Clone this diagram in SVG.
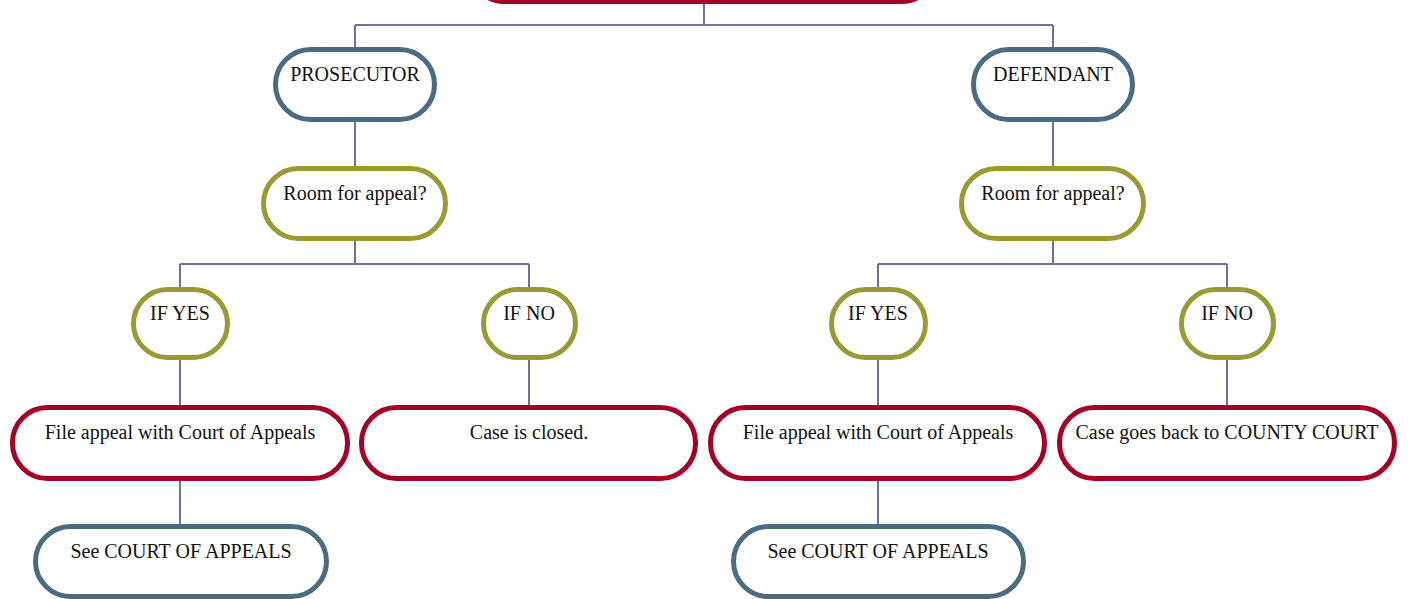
<svg xmlns="http://www.w3.org/2000/svg" width="1408" height="599" viewBox="0 0 1408 599">
<style>
.n rect{fill:#ffffff;stroke-width:5}
.red rect{stroke:#a50026}
.blue rect{stroke:#4b6b80}
.olive rect{stroke:#9a9a33}
.n text{font-family:"Liberation Serif","Times New Roman",serif;font-size:20px;fill:#111111;text-anchor:middle}
#connectors path{fill:none;stroke:#7070a0;stroke-width:2}
</style>
<rect width="1408" height="599" fill="#ffffff"/>
<g id="connectors">
<path d="M704 3V25M355 25H1053M355 25V47M1053 25V47"/>
<path d="M355 122V166M1053 122V166"/>
<path d="M355 241V264M180 264H529M180 264V287M529 264V287"/>
<path d="M1053 241V264M878 264H1227M878 264V287M1227 264V287"/>
<path d="M180 360V405M529 360V405M878 360V405M1227 360V405"/>
<path d="M180 481V524M878 481V524"/>
</g>
<g id="top" class="n red"><rect x="469.5" y="-70" width="467" height="71.5" rx="35"/></g>
<g id="prosecutor" class="n blue"><rect x="275.5" y="49.5" width="159" height="70" rx="35"/><text x="355" y="81">PROSECUTOR</text></g>
<g id="defendant" class="n blue"><rect x="973.5" y="49.5" width="159" height="70" rx="35"/><text x="1053" y="81">DEFENDANT</text></g>
<g id="room-left" class="n olive"><rect x="263.5" y="168.5" width="182" height="70" rx="35"/><text x="355" y="200">Room for appeal?</text></g>
<g id="room-right" class="n olive"><rect x="961.5" y="168.5" width="182" height="70" rx="35"/><text x="1053" y="200">Room for appeal?</text></g>
<g id="yes-left" class="n olive"><rect x="133.5" y="289.5" width="94" height="68" rx="34"/><text x="180" y="320">IF YES</text></g>
<g id="no-left" class="n olive"><rect x="483.5" y="289.5" width="92" height="68" rx="34"/><text x="529" y="320">IF NO</text></g>
<g id="yes-right" class="n olive"><rect x="831.5" y="289.5" width="94" height="68" rx="34"/><text x="878" y="320">IF YES</text></g>
<g id="no-right" class="n olive"><rect x="1181.5" y="289.5" width="92" height="68" rx="34"/><text x="1227" y="320">IF NO</text></g>
<g id="file-left" class="n red"><rect x="12.5" y="407.5" width="335" height="71" rx="35"/><text x="180" y="439">File appeal with Court of Appeals</text></g>
<g id="closed" class="n red"><rect x="361.5" y="407.5" width="334" height="71" rx="35"/><text x="529" y="439">Case is closed.</text></g>
<g id="file-right" class="n red"><rect x="710.5" y="407.5" width="334" height="71" rx="35"/><text x="878" y="439">File appeal with Court of Appeals</text></g>
<g id="county" class="n red"><rect x="1059.5" y="407.5" width="335" height="71" rx="35"/><text x="1227" y="439">Case goes back to COUNTY COURT</text></g>
<g id="see-left" class="n blue"><rect x="35.5" y="526.5" width="291" height="70" rx="35"/><text x="181" y="558">See COURT OF APPEALS</text></g>
<g id="see-right" class="n blue"><rect x="733.5" y="526.5" width="290" height="70" rx="35"/><text x="878" y="558">See COURT OF APPEALS</text></g>
</svg>
